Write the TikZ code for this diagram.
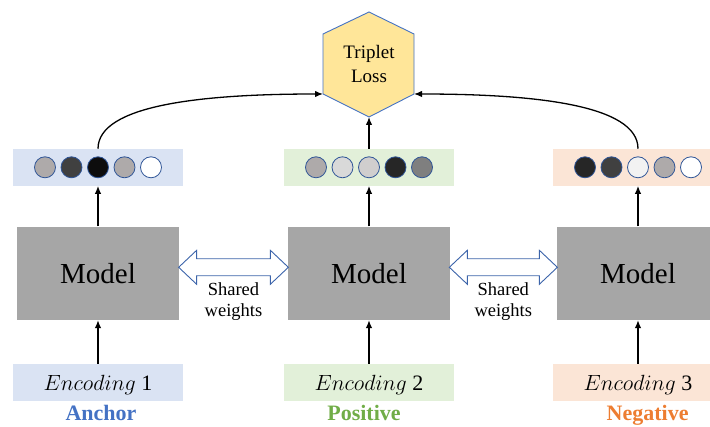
\documentclass[tikz,border=0pt]{standalone}
\usepackage{fix-cm}
\usepackage{fontspec}
\setmainfont{Liberation Serif}
\usetikzlibrary{arrows.meta}
\definecolor{bluebox}{HTML}{DAE3F3}
\definecolor{greenbox}{HTML}{E2F0D9}
\definecolor{orangebox}{HTML}{FBE5D6}
\definecolor{modelgray}{HTML}{A6A6A6}
\definecolor{hexfill}{HTML}{FFE699}
\definecolor{hexline}{HTML}{4472C4}
\definecolor{arrline}{HTML}{3C64AA}
\definecolor{circline}{HTML}{2F5597}
\definecolor{ancc}{HTML}{4472C4}
\definecolor{posc}{HTML}{70AD47}
\definecolor{negc}{HTML}{ED7D31}
\definecolor{kA}{HTML}{0D0D0D}
\definecolor{kB}{HTML}{262626}
\definecolor{kC}{HTML}{404040}
\definecolor{kD}{HTML}{7F7F7F}
\definecolor{kE}{HTML}{AEAAAA}
\definecolor{kF}{HTML}{D0CECE}
\definecolor{kG}{HTML}{D9D9D9}
\definecolor{kH}{HTML}{F2F2F2}
\definecolor{kW}{HTML}{FFFFFF}
\newcommand{\dblarr}[3]{%
  \draw[shared] (#1,#3) -- ({#1+18},{#3-17}) -- ({#1+18},{#3-8.5}) -- ({#2-18},{#3-8.5})
    -- ({#2-18},{#3-17}) -- (#2,#3) -- ({#2-18},{#3+17}) -- ({#2-18},{#3+8.5})
    -- ({#1+18},{#3+8.5}) -- ({#1+18},{#3+17}) -- cycle;}
\begin{document}
\begin{tikzpicture}[x=1pt,y=-1pt,
  vecbox/.style={minimum width=170pt,minimum height=36.7pt,inner sep=0pt},
  encbox/.style={minimum width=170pt,minimum height=36.7pt,inner sep=0pt,
    text height=16pt,text depth=0pt,font=\fontsize{22}{26}\selectfont},
  modelbox/.style={fill=modelgray,minimum width=161.3pt,minimum height=93.3pt,
    inner sep=0pt,font=\fontsize{29}{34}\selectfont},
  unit/.style={circle,draw=circline,line width=0.8pt,minimum size=21pt,inner sep=0pt},
  arr/.style={line width=1.3pt,-{Latex[length=8pt,width=6.5pt]}},
  shared/.style={draw=arrline,fill=white,line width=0.9pt,line join=miter},
  sharedtxt/.style={align=center,font=\fontsize{18.5}{21.7}\selectfont},
  role/.style={font=\bfseries\fontsize{22}{26}\selectfont,anchor=base}
]
\useasboundingbox (0,0) rectangle (710,427);
\clip (0,0) rectangle (710,427);

% Triplet loss hexagon
\draw[fill=hexfill,draw=hexline,line width=0.9pt]
  (369,12) -- (414,34) -- (414,94) -- (369,117) -- (323,94) -- (323,34) -- cycle;
\coordinate (hexL) at (323,94);
\coordinate (hexR) at (414,94);
\coordinate (hexB) at (369,117);
\node[align=center,font=\fontsize{19}{24.4}\selectfont] (loss) at (369,64) {Triplet\\Loss};

% embedding vectors
\node[vecbox,fill=bluebox] (v1) at (98,167.3) {};
\node[vecbox,fill=greenbox] (v2) at (369,167.3) {};
\node[vecbox,fill=orangebox] (v3) at (638,167.3) {};
\foreach \c [count=\i] in {kE,kC,kA,kE,kW}
  \node[unit,fill=\c] (ca\i) at ({98+(\i-3)*26.5},167.3) {};
\foreach \c [count=\i] in {kE,kG,kF,kB,kD}
  \node[unit,fill=\c] (cb\i) at ({369+(\i-3)*26.5},167.3) {};
\foreach \c [count=\i] in {kB,kC,kH,kE,kW}
  \node[unit,fill=\c] (cc\i) at ({638+(\i-3)*26.5},167.3) {};

% models
\node[modelbox] (m1) at (98,273.3) {Model};
\node[modelbox] (m2) at (369,273.3) {Model};
\node[modelbox] (m3) at (638,273.3) {Model};

% shared weights
\dblarr{178.65}{288.35}{267.3}
\dblarr{449.35}{557.35}{267.3}
\node[sharedtxt] (s1) at (233.5,301.5) {Shared\\weights};
\node[sharedtxt] (s2) at (503.3,301.5) {Shared\\weights};

% encodings
\node[encbox,fill=bluebox] (e1) at (98,382.4) {$Encoding$ 1};
\node[encbox,fill=greenbox] (e2) at (369,382.4) {$Encoding$ 2};
\node[encbox,fill=orangebox] (e3) at (638,382.4) {$Encoding$ 3};

\node[role,text=ancc] (r1) at (101,421) {Anchor};
\node[role,text=posc] (r2) at (364,421) {Positive};
\node[role,text=negc] (r3) at (647.6,421) {Negative};

% arrows
\draw[arr] (e1.north) -- (m1.south);
\draw[arr] (e2.north) -- (m2.south);
\draw[arr] (e3.north) -- (m3.south);
\draw[arr] (m1.north) -- (v1.south);
\draw[arr] (m2.north) -- (v2.south);
\draw[arr] (m3.north) -- (v3.south);
\draw[arr] (v2.north) -- (hexB);
\draw[arr] (v1.north) .. controls +(0,-44) and +(-120,0) .. (hexL);
\draw[arr] (v3.north) .. controls +(0,-44) and +(120,0) .. (hexR);
\end{tikzpicture}
\end{document}
